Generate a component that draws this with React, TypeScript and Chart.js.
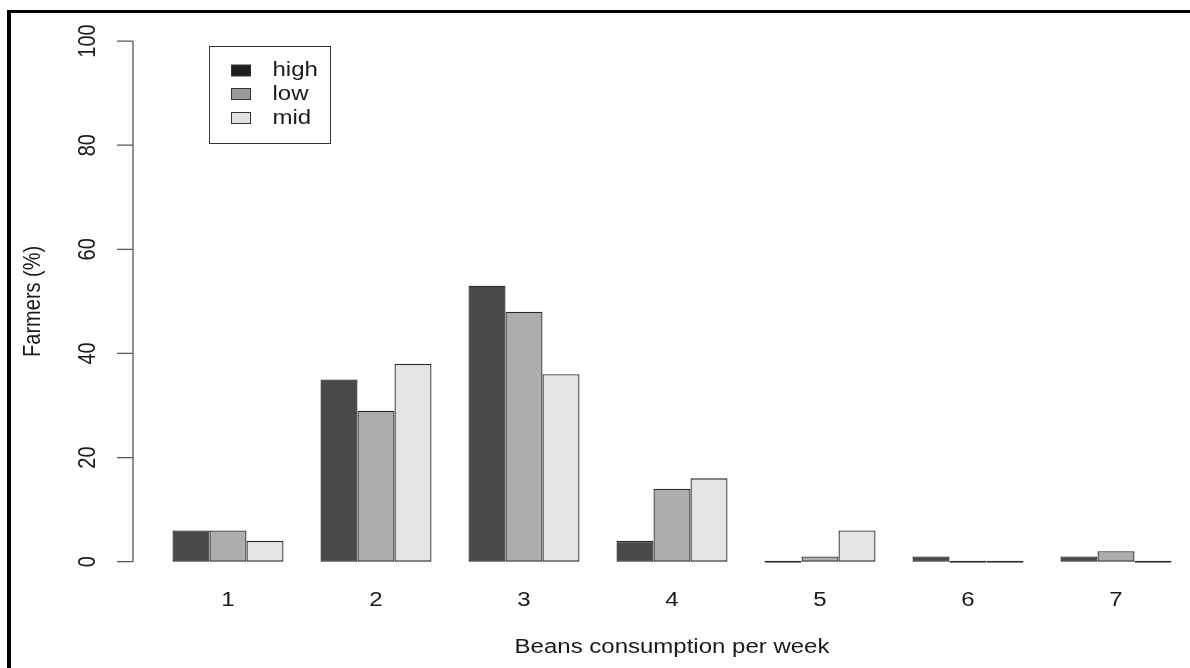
import React, { useEffect, useRef } from "react";
import { Chart, registerables } from "chart.js";

Chart.register(...registerables);

const categories = ["1", "2", "3", "4", "5", "6", "7"];
const seriesNames = ["high", "low", "mid"];
const highValues = [6, 35, 53, 4, 0, 1, 1];
const lowValues = [6, 29, 48, 14, 1, 0, 2];
const midValues = [4, 38, 36, 16, 6, 0, 0];
const yTicks = [0, 20, 40, 60, 80, 100];
const yTickLabels = ["0", "20", "40", "60", "80", "100"];
const xTitle = "Beans consumption per week";
const yTitle = "Farmers (%)";

const barColors = ["#4a4a4a", "#adadad", "#e5e5e5"];
const legendColors = ["#1e1e1e", "#999999", "#e2e2e2"];
const FONT = '20px "Liberation Sans", Arial, Helvetica, sans-serif';
const SX = 1.2;

function stretchedText(
  ctx: CanvasRenderingContext2D,
  text: string,
  x: number,
  y: number,
  align: CanvasTextAlign,
  rotate: boolean
) {
  ctx.save();
  ctx.translate(x, y);
  ctx.scale(SX, 1);
  if (rotate) ctx.rotate(-Math.PI / 2);
  ctx.font = FONT;
  ctx.fillStyle = "#1a1a1a";
  ctx.textAlign = align;
  ctx.textBaseline = "middle";
  ctx.fillText(text, 0, 0);
  ctx.restore();
}

const rAxesPlugin = {
  id: "rAxes",
  afterDraw(chart: any) {
    const ctx: CanvasRenderingContext2D = chart.ctx;
    const ys = chart.scales.y;
    const xs = chart.scales.x;
    const area = chart.chartArea;
    const axisX = 133;

    // y axis
    ctx.save();
    ctx.strokeStyle = "#555555";
    ctx.lineWidth = 1.3;
    ctx.beginPath();
    ctx.moveTo(axisX, ys.getPixelForValue(yTicks[0]));
    ctx.lineTo(axisX, ys.getPixelForValue(yTicks[yTicks.length - 1]));
    yTicks.forEach((v) => {
      const py = ys.getPixelForValue(v);
      ctx.moveTo(axisX - 16, py);
      ctx.lineTo(axisX, py);
    });
    ctx.stroke();
    ctx.restore();

    yTicks.forEach((v, i) => {
      stretchedText(ctx, yTickLabels[i], 88, ys.getPixelForValue(v), "center", true);
    });

    // y title
    stretchedText(ctx, yTitle, 33, (area.top + area.bottom) / 2, "center", true);

    // x labels
    categories.forEach((c, i) => {
      stretchedText(ctx, c, xs.getPixelForValue(i), 600, "center", false);
    });

    // x title
    stretchedText(ctx, xTitle, 672, 647, "center", false);

    // legend
    ctx.save();
    ctx.strokeStyle = "#333333";
    ctx.lineWidth = 1;
    ctx.strokeRect(209.5, 46.5, 121, 97);
    const rows = [70.5, 94, 118];
    seriesNames.forEach((name, i) => {
      const cy = rows[i];
      ctx.fillStyle = legendColors[i];
      ctx.fillRect(231.5, cy - 5.5, 19, 11);
      ctx.strokeStyle = "#333333";
      ctx.strokeRect(231.5, cy - 5.5, 19, 11);
      stretchedText(ctx, name, 272.5, cy, "left", false);
    });
    ctx.restore();
  },
};

export default function App() {
  const canvasRef = useRef<HTMLCanvasElement | null>(null);

  useEffect(() => {
    if (!canvasRef.current) return;
    const seriesValues = [highValues, lowValues, midValues];
    const chart = new Chart(canvasRef.current, {
      type: "bar",
      data: {
        labels: categories,
        datasets: seriesNames.map((name, i) => ({
          label: name,
          data: seriesValues[i],
          backgroundColor: barColors[i],
          borderColor: "#2b2b2b",
          borderWidth: 1.3,
          borderSkipped: false,
          minBarLength: 2,
          barPercentage: 1,
          categoryPercentage: 0.75,
        })),
      },
      options: {
        responsive: false,
        animation: false,
        devicePixelRatio: 1,
        layout: { padding: { left: 154, right: 0, top: 20.2, bottom: 85.5 } },
        plugins: { legend: { display: false }, tooltip: { enabled: false } },
        scales: {
          x: { type: "category", display: false, offset: true },
          y: { type: "linear", display: false, min: -4, max: 104 },
        },
      },
      plugins: [rAxesPlugin],
    });
    return () => chart.destroy();
  }, []);

  return (
    <div
      style={{
        position: "fixed",
        left: 0,
        top: 0,
        width: 1190,
        height: 668,
        background: "#ffffff",
        overflow: "hidden",
      }}
    >
      <canvas ref={canvasRef} width={1190} height={668} style={{ display: "block" }} />
      <div
        style={{
          position: "absolute",
          left: 7,
          top: 10,
          width: 1300,
          height: 800,
          borderLeft: "4px solid #000",
          borderTop: "3px solid #000",
          pointerEvents: "none",
        }}
      />
    </div>
  );
}
